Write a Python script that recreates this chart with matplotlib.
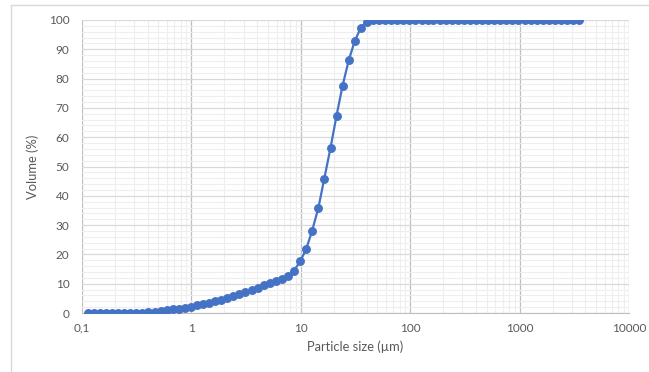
import numpy as np
import matplotlib.pyplot as plt
from matplotlib.patches import Rectangle
from matplotlib.ticker import FixedLocator, FuncFormatter, MultipleLocator

# particle size classes (um), log spaced
size_um = [0.113, 0.128, 0.146, 0.166, 0.188, 0.214, 0.243, 0.276, 0.314, 0.357,
           0.405, 0.460, 0.523, 0.594, 0.675, 0.767, 0.872, 0.991, 1.13, 1.28,
           1.45, 1.65, 1.88, 2.13, 2.42, 2.75, 3.12, 3.55, 4.03, 4.58,
           5.21, 5.92, 6.72, 7.64, 8.68, 9.86, 11.2, 12.7, 14.5, 16.4,
           18.7, 21.2, 24.1, 27.4, 31.1, 35.3, 40.1, 45.6, 51.8, 58.9,
           66.9, 76.0, 86.4, 98.1, 111, 127, 144, 163, 186, 211,
           240, 272, 310, 352, 400, 454, 516, 586, 666, 756,
           859, 976, 1110, 1260, 1430, 1630, 1850, 2100, 2390, 2710,
           3080, 3500]

# cumulative volume (%)
volume_pct = [0, 0, 0, 0, 0, 0, 0, 0, 0.05, 0.15,
              0.3, 0.5, 0.7, 0.95, 1.2, 1.5, 1.85, 2.2, 2.6, 3.0,
              3.5, 4.0, 4.5, 5.1, 5.7, 6.4, 7.1, 7.9, 8.7, 9.5,
              10.2, 10.9, 11.6, 12.6, 14.5, 17.6, 21.8, 28.1, 36.0, 45.9,
              56.4, 67.3, 77.6, 86.2, 92.8, 97.3, 99.4, 99.9, 100, 100,
              100, 100, 100, 100, 100, 100, 100, 100, 100, 100,
              100, 100, 100, 100, 100, 100, 100, 100, 100, 100,
              100, 100, 100, 100, 100, 100, 100, 100, 100, 100,
              100, 100]

x_ticks = [0.1, 1, 10, 100, 1000, 10000]
x_tick_labels = ["0,1", "1", "10", "100", "1000", "10000"]

plt.rcParams['font.family'] = ['Lato', 'DejaVu Sans']

fig = plt.figure(figsize=(6.49, 3.72), dpi=100)
# outer chart frame, only top and left edges fall inside the image
fig.patches.append(Rectangle((11 / 649, -0.05), 1.0, 1.05 - 5 / 372,
                             transform=fig.transFigure, fill=False,
                             edgecolor='#d9d9d9', linewidth=1))
ax = fig.add_axes([82 / 649, 1 - 313 / 372, 547 / 649, 293 / 372])

ax.plot(size_um, volume_pct, color='#4472c4', linewidth=1.6,
        marker='o', markersize=5.4, zorder=3)

ax.set_xscale('log')
ax.set_xlim(0.1, 10000)
ax.set_ylim(0, 100)

ax.xaxis.set_major_locator(FixedLocator(x_ticks))
ax.xaxis.set_major_formatter(FuncFormatter(
    lambda v, p: x_tick_labels[x_ticks.index(v)] if v in x_ticks else ""))
ax.yaxis.set_major_locator(MultipleLocator(10))
ax.yaxis.set_minor_locator(MultipleLocator(2))

ax.grid(True, which='major', axis='x', color='#bfbfbf', linewidth=0.9)
ax.grid(True, which='major', axis='y', color='#d9d9d9', linewidth=0.9)
ax.grid(True, which='minor', color='#eeeeee', linewidth=0.8)
ax.set_axisbelow(True)

for s in ['top', 'right', 'left']:
    ax.spines[s].set_visible(False)
ax.spines['bottom'].set_color('#bfbfbf')

ax.tick_params(which='both', length=0, colors='#595959', labelsize=8.5)
ax.tick_params(axis='x', pad=7)
ax.tick_params(axis='y', pad=9)

ax.set_xlabel("Particle size (µm)", color='#595959', fontsize=9.3, labelpad=5)
ax.set_ylabel("Volume (%)", color='#595959', fontsize=9.3, labelpad=7)

fig.savefig("out.png", dpi=100)
